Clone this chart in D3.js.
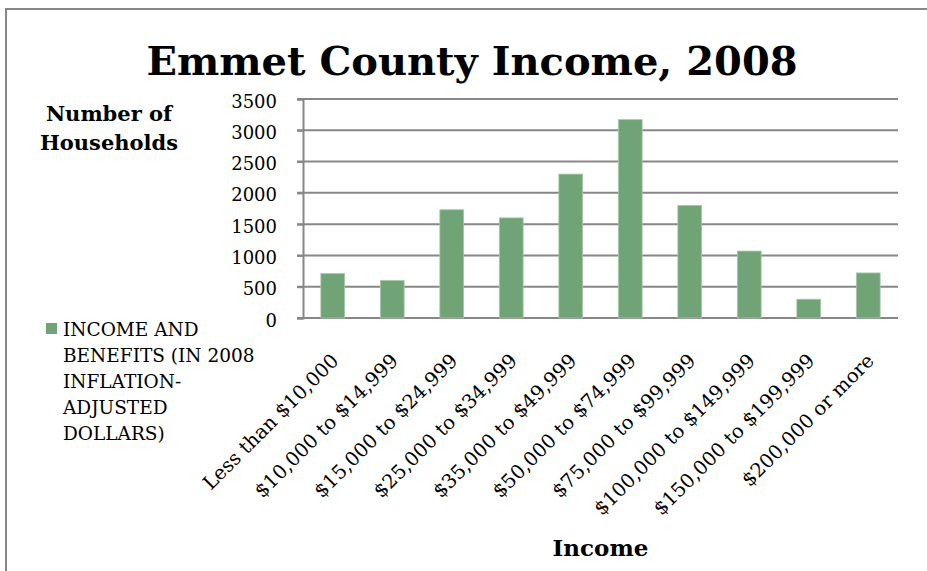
<!DOCTYPE html>
<html>
<head>
<meta charset="utf-8">
<script src="https://cdn.jsdelivr.net/npm/d3@7/dist/d3.min.js"></script>
<style>
  html, body { margin: 0; padding: 0; background: #fff; }
  svg { display: block; }
  text { font-family: "DejaVu Serif", "Liberation Serif", serif; fill: #000; }
</style>
</head>
<body>
<svg id="chart" width="927" height="571"></svg>
<script>
// Household income brackets and counts
const categories = [
  "Less than $10,000",
  "$10,000 to $14,999",
  "$15,000 to $24,999",
  "$25,000 to $34,999",
  "$35,000 to $49,999",
  "$50,000 to $74,999",
  "$75,000 to $99,999",
  "$100,000 to $149,999",
  "$150,000 to $199,999",
  "$200,000 or more"
];
const households = [710, 600, 1730, 1600, 2300, 3170, 1800, 1070, 300, 720];
const yTicks = [0, 500, 1000, 1500, 2000, 2500, 3000, 3500];
const legendLines = ["INCOME AND", "BENEFITS (IN 2008", "INFLATION-", "ADJUSTED", "DOLLARS)"];
const titleText = "Emmet County Income, 2008";
const yTitleLines = ["Number of", "Households"];
const xTitleText = "Income";

const barColor = "#70a376";
const gridColor = "#878787";

const svg = d3.select("#chart");
const plot = { left: 303, right: 898, top: 99, bottom: 318 };

// outer frame
svg.append("rect")
  .attr("x", 6).attr("y", 9)
  .attr("width", 960).attr("height", 600)
  .attr("fill", "#fff")
  .attr("stroke", gridColor).attr("stroke-width", 2);

const x = d3.scaleBand()
  .domain(categories)
  .range([plot.left, plot.right])
  .paddingInner(0.6)
  .paddingOuter(0.3);

const y = d3.scaleLinear()
  .domain([0, 3500])
  .range([plot.bottom, plot.top]);

// horizontal gridlines
svg.append("g").selectAll("line")
  .data(yTicks)
  .join("line")
  .attr("x1", plot.left - 6).attr("x2", plot.right)
  .attr("y1", d => y(d)).attr("y2", d => y(d))
  .attr("stroke", gridColor).attr("stroke-width", 2);

// value axis
const yAxis = svg.append("g")
  .attr("transform", `translate(${plot.left},0)`)
  .call(d3.axisLeft(y).tickValues(yTicks).tickFormat(d3.format("d")).tickSize(6).tickPadding(20));
yAxis.select(".domain").attr("stroke", gridColor).attr("stroke-width", 2);
yAxis.selectAll(".tick line").attr("stroke", gridColor).attr("stroke-width", 2);
yAxis.selectAll(".tick text")
  .style("font-family", "'DejaVu Serif', serif")
  .style("font-size", "18px")
  .attr("fill", "#000")
  .attr("dy", "0.45em");

// bars
svg.append("g").selectAll("rect")
  .data(households)
  .join("rect")
  .attr("x", (d, i) => x(categories[i]))
  .attr("width", x.bandwidth())
  .attr("y", d => y(d))
  .attr("height", d => y(0) - y(d))
  .attr("fill", barColor)
  .attr("stroke", "#a6c9a8").attr("stroke-width", 0.8);

// category labels, slanted
const xAxis = svg.append("g")
  .attr("transform", `translate(0,${plot.bottom})`)
  .call(d3.axisBottom(x).tickSize(0).tickPadding(0));
xAxis.select(".domain").remove();
xAxis.selectAll(".tick text")
  .style("font-family", "'DejaVu Serif', serif")
  .style("font-size", "19.5px")
  .attr("fill", "#000")
  .attr("text-anchor", "end")
  .attr("dy", null)
  .attr("y", 0)
  .attr("transform", "translate(7,44) rotate(-45)");

// chart title
svg.append("text")
  .attr("x", 472).attr("y", 75)
  .attr("text-anchor", "middle")
  .style("font-size", "40px").style("font-weight", "bold")
  .text(titleText);

// value axis title
svg.append("g").selectAll("text")
  .data(yTitleLines)
  .join("text")
  .attr("x", 109).attr("y", (d, i) => 121 + i * 29)
  .attr("text-anchor", "middle")
  .style("font-size", "21px").style("font-weight", "bold")
  .text(d => d);

// category axis title
svg.append("text")
  .attr("x", (plot.left + plot.right) / 2).attr("y", 556)
  .attr("text-anchor", "middle")
  .style("font-size", "23px").style("font-weight", "bold")
  .text(xTitleText);

// legend
const legend = svg.append("g");
legend.append("rect")
  .attr("x", 46).attr("y", 323).attr("width", 11).attr("height", 11)
  .attr("fill", barColor);
legend.selectAll("text")
  .data(legendLines)
  .join("text")
  .attr("x", 63).attr("y", (d, i) => 336 + i * 26)
  .style("font-size", "18.5px")
  .text(d => d);
</script>
</body>
</html>
